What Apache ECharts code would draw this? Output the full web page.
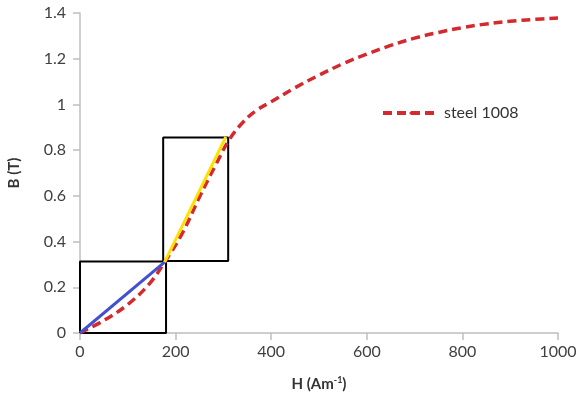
<!DOCTYPE html>
<html>
<head>
<meta charset="utf-8">
<script src="https://cdn.jsdelivr.net/npm/echarts@6/dist/echarts.min.js"></script>
<style>
html,body{margin:0;padding:0;background:#fff;}
#main{width:582px;height:407px;}
</style>
</head>
<body>
<div id="main"></div>
<script>
// B-H 曲线 steel 1008
var hSteel = [0, 50, 100, 145, 177, 215, 250, 285, 312, 340, 370, 400, 450, 500, 550, 600, 650, 700, 750, 800, 850, 900, 950, 1000];
var bSteel = [0, 0.055, 0.125, 0.215, 0.31, 0.44, 0.595, 0.74, 0.845, 0.92, 0.975, 1.012, 1.073, 1.128, 1.178, 1.22, 1.258, 1.29, 1.315, 1.336, 1.352, 1.364, 1.372, 1.378];
// 线性段
var hBlue = [0, 177];
var bBlue = [0, 0.31];
var hYellow = [177, 305];
var bYellow = [0.31, 0.858];
// 方框
var hBox1 = [0, 180, 180, 0, 0];
var bBox1 = [0, 0, 0.313, 0.313, 0];
var hBox2 = [174, 310, 310, 174, 174];
var bBox2 = [0.315, 0.315, 0.855, 0.855, 0.315];

function pairs(xs, ys){
	var out = [];
	for (var i = 0; i < xs.length; i++) {
		out.push([xs[i], ys[i]]);
	}
	return out;
}

var fontName = 'Lato';
var chart = echarts.init(document.getElementById('main'));
var option = {
	animation: false,
	backgroundColor: '#fff',
	grid: { left: 80, right: 24, top: 13, bottom: 74, outerBoundsMode: 'none' },
	legend: {
		data: ['steel 1008'],
		left: 376, top: 100,
		itemWidth: 56, itemHeight: 4, itemGap: 4,
		lineStyle: { width: 4, type: [9, 5] },
		textStyle: { fontFamily: fontName, fontSize: 16, color: '#333' }
	},
	xAxis: {
		type: 'value', min: 0, max: 1000, interval: 200,
		name: '{a|H (Am}{s|-1}{a|)}',
		nameLocation: 'middle', nameGap: 43,
		nameTextStyle: {
			rich: {
				a: { fontFamily: fontName, fontSize: 15, fontWeight: 'bold', color: '#333' },
				s: { fontFamily: fontName, fontSize: 9, fontWeight: 'bold', color: '#333', verticalAlign: 'top', padding: [0, 0, 8, 0] }
			}
		},
		axisLine: { lineStyle: { color: '#bfbfbf', width: 1.5 } },
		axisTick: { show: true, length: 7, lineStyle: { color: '#bfbfbf', width: 1.5 } },
		axisLabel: {
			margin: 11, fontFamily: fontName, fontSize: 16, color: '#404040',
			formatter: function(v){ return String(v); }
		},
		splitLine: { show: false }
	},
	yAxis: {
		type: 'value', min: 0, max: 1.4, interval: 0.2,
		name: 'B (T)',
		nameLocation: 'middle', nameGap: 58, nameRotate: 90,
		nameTextStyle: { fontFamily: fontName, fontSize: 15, fontWeight: 'bold', color: '#333' },
		axisLine: { show: true, lineStyle: { color: '#bfbfbf', width: 1.5 } },
		axisTick: { show: true, length: 7, lineStyle: { color: '#bfbfbf', width: 1.5 } },
		axisLabel: { margin: 14, fontFamily: fontName, fontSize: 16, color: '#404040' },
		splitLine: { show: false }
	},
	series: [
		{
			name: 'box1', type: 'line', data: pairs(hBox1, bBox1),
			symbol: 'none', silent: true,
			lineStyle: { color: '#000', width: 2 }, z: 1
		},
		{
			name: 'box2', type: 'line', data: pairs(hBox2, bBox2),
			symbol: 'none', silent: true,
			lineStyle: { color: '#000', width: 2 }, z: 1
		},
		{
			name: 'steel 1008', type: 'line', data: pairs(hSteel, bSteel),
			symbol: 'none', smooth: 0.4,
			itemStyle: { color: '#d42a2f' },
			lineStyle: { color: '#d42a2f', width: 3.5, type: [9, 5] }, z: 2
		},
		{
			name: 'blue', type: 'line', data: pairs(hBlue, bBlue),
			symbol: 'none',
			lineStyle: { color: '#4151cf', width: 3 }, z: 3
		},
		{
			name: 'yellow', type: 'line', data: pairs(hYellow, bYellow),
			symbol: 'none',
			lineStyle: { color: '#ffe100', width: 3 }, z: 3
		}
	]
};
chart.setOption(option);
</script>
</body>
</html>
